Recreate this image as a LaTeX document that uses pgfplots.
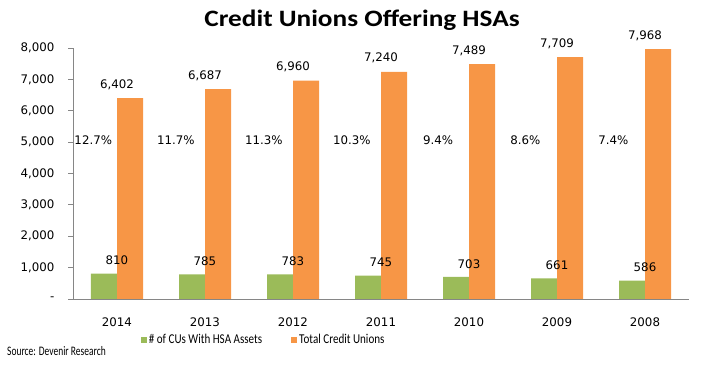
\documentclass[border=0pt]{standalone}
\usepackage{pgfplots}
\pgfplotsset{compat=1.18}
\usepackage{pgfplotstable}
\usepackage{fontspec}
\setmainfont{Carlito}
\newfontfamily\djfont{DejaVu Sans}
\newfontfamily\titlefont[FakeStretch=1.16]{Carlito}
\newfontfamily\legfont[FakeStretch=0.82]{Carlito}
\newfontfamily\srcfont[FakeStretch=0.73]{Carlito}
\definecolor{cugreen}{HTML}{9BBB59}
\definecolor{cuorange}{HTML}{F79646}
\definecolor{axgray}{HTML}{868686}

\pgfplotstableread{
x hsa total
0 810 6402
1 785 6687
2 783 6960
3 745 7240
4 703 7489
5 661 7709
6 586 7968
}\datatable

\begin{document}
\begin{tikzpicture}
\begin{axis}[
  at={(0,0)}, anchor=south west,
  scale only axis, width=616pt, height=251pt,
  xmin=-0.5, xmax=6.5, ymin=0, ymax=8000,
  axis x line*=bottom, axis y line*=left,
  axis line style={axgray, line width=0.8pt},
  xtick={0,1,2,3,4,5,6},
  xticklabels={2014,2013,2012,2011,2010,2009,2008},
  x tick style={draw=none},
  ytick={0,1000,2000,3000,4000,5000,6000,7000,8000},
  yticklabels={{-},{1,000},{2,000},{3,000},{4,000},{5,000},{6,000},{7,000},{8,000}},
  y tick style={axgray, line width=0.8pt},
  tick align=outside, major tick length=5pt,
  tick label style={font=\djfont\fontsize{11.8}{14}\selectfont},
  xticklabel style={yshift=-10pt},
  yticklabel style={xshift=-10pt},
  /pgf/number format/.cd, 1000 sep={,}, assume math mode=true, /pgfplots/.cd,
  legend style={at={(0.105,-0.163)}, anchor=west, draw=none, fill=none,
    font=\legfont\fontsize{13.5}{15}\selectfont,
    /tikz/every even column/.append style={column sep=27pt}},
  legend columns=2,
]
\addplot[ybar, bar width=26pt, bar shift=-13pt, fill=cugreen, draw=none,
  nodes near coords, nodes near coords style={font=\djfont\fontsize{11.8}{14}\selectfont, text=black, yshift=5pt},
  legend image code/.code={\fill[cugreen] (0pt,-3pt) rectangle (6pt,3pt);}]
  table[x=x, y=hsa] {\datatable};
\addlegendentry{\# of CUs With HSA Assets}
\addplot[ybar, bar width=26pt, bar shift=13pt, fill=cuorange, draw=none,
  nodes near coords, nodes near coords style={font=\djfont\fontsize{11.8}{14}\selectfont, text=black, yshift=5pt},
  legend image code/.code={\fill[cuorange] (0pt,-3pt) rectangle (6pt,3pt);}]
  table[x=x, y=total] {\datatable};
\addlegendentry{Total Credit Unions}
\addplot[only marks, mark=none, forget plot, point meta=explicit symbolic,
  nodes near coords, nodes near coords style={anchor=center, font=\djfont\fontsize{11.8}{14}\selectfont, text=black}]
  coordinates {(-0.27,5070) [12.7\%] (0.67,5070) [11.7\%] (1.67,5070) [11.3\%]
    (2.67,5070) [10.3\%] (3.65,5070) [9.4\%] (4.64,5070) [8.6\%] (5.64,5070) [7.4\%]};
\end{axis}
\node[anchor=base, font=\titlefont\bfseries\fontsize{23.5}{28}\selectfont] at (289pt,272pt) {Credit Unions Offering HSAs};
\node[anchor=base west, inner sep=0pt, font=\srcfont\fontsize{13}{15}\selectfont] at (-66pt,-57pt) {Source: Devenir Research};
\pgfresetboundingbox
\path[use as bounding box] (-73pt,-67pt) rectangle (641pt,299pt);
\end{tikzpicture}
\end{document}
